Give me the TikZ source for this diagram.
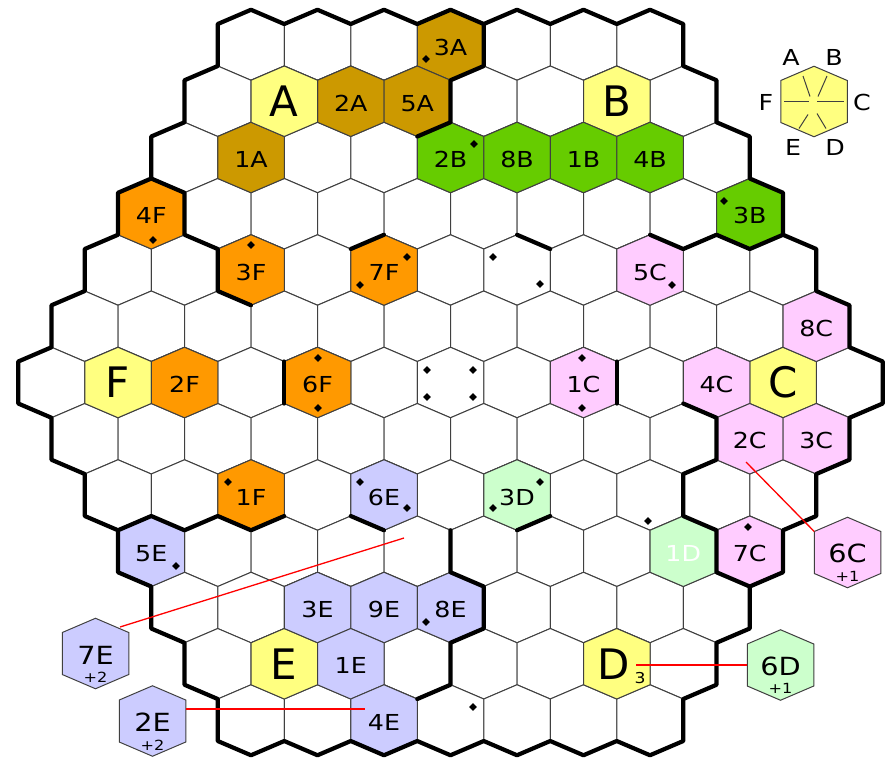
\documentclass[tikz,border=0pt]{standalone}
\usepackage{fontspec}
\setmainfont{DejaVu Sans}
\newfontfamily\lblfont{DejaVu Sans}[FakeStretch=1.15]
\usetikzlibrary{shapes.geometric}

\definecolor{cellA}{HTML}{CC9900}
\definecolor{cellB}{HTML}{66CC00}
\definecolor{cellC}{HTML}{FFCCFF}
\definecolor{cellD}{HTML}{CCFFCC}
\definecolor{cellE}{HTML}{CCCCFF}
\definecolor{cellF}{HTML}{FF9900}
\definecolor{home}{HTML}{FFFF80}

% one hex cell round the current point
\newcommand\hexpath{+(-33.25,-21) -- +(0,-35.25) -- +(33.25,-21) -- +(33.25,21) -- +(0,35.25) -- +(-33.25,21) -- cycle}

\begin{document}
\begin{tikzpicture}[x=1pt, y=-1pt,
    cell/.style={draw=black!75, line width=1pt, fill=white},
    wall/.style={draw=black, line width=4.2pt, line join=round, line cap=round},
    link/.style={draw=red, line width=1.3pt},
    spoke/.style={draw=black!75, line width=1pt},
    lbl/.style={font=\lblfont\fontsize{22}{22}\selectfont, inner sep=0pt, yshift=-2pt},
    bigl/.style={font=\fontsize{42}{42}\selectfont, inner sep=0pt},
    offl/.style={font=\lblfont\fontsize{25}{25}\selectfont, inner sep=0pt},
    bonus/.style={font=\lblfont\fontsize{14}{14}\selectfont, inner sep=0pt},
    keyl/.style={font=\lblfont\fontsize{22}{22}\selectfont, inner sep=0pt},
    pip/.style={diamond, fill=black, inner sep=0pt, minimum size=8pt},
    vN/.style={shift={(0,-35.25)}}, vNE/.style={shift={(33.25,-21)}},
    vSE/.style={shift={(33.25,21)}}, vS/.style={shift={(0,35.25)}},
    vSW/.style={shift={(-33.25,21)}}, vNW/.style={shift={(-33.25,-21)}}
]
\fill[white] (0,0) rectangle (892,761);
\useasboundingbox (0,0) rectangle (892,761);

% Board cells
\foreach \r in {0,...,12} {
  \pgfmathtruncatemacro\k{min(\r,12-\r)}
  \pgfmathtruncatemacro\L{6+\k}
  \foreach \i in {0,...,\L} {
    \coordinate (h\r-\i) at ({251-33.25*\k+66.5*\i},{45+56.25*\r});
    \path[cell] (h\r-\i) \hexpath;
  }
}

% Coloured cells
\foreach \c/\col in {0-3/cellA, 1-2/cellA, 1-3/cellA, 2-1/cellA,
    1-1/home, 1-6/home, 6-1/home, 6-11/home, 11-1/home, 11-6/home,
    2-4/cellB, 2-5/cellB, 2-6/cellB, 2-7/cellB, 3-9/cellB,
    3-0/cellF, 4-2/cellF, 4-4/cellF, 6-2/cellF, 6-4/cellF, 8-2/cellF,
    4-8/cellC, 5-11/cellC, 6-8/cellC, 6-10/cellC, 7-10/cellC, 7-11/cellC, 9-9/cellC,
    8-6/cellD, 9-8/cellD,
    8-4/cellE, 9-0/cellE, 10-2/cellE, 10-3/cellE, 10-4/cellE, 11-2/cellE, 12-2/cellE}
  \path[cell, fill=\col] (h\c) \hexpath;

% Pieces off the board
\coordinate (o7E) at (95.5,653.5);
\coordinate (o2E) at (152.5,721);
\coordinate (o6D) at (780.5,665);
\coordinate (o6C) at (847.5,552.5);
\path[cell, fill=cellE] (o7E) \hexpath;
\path[cell, fill=cellE] (o2E) \hexpath;
\path[cell, fill=cellD] (o6D) \hexpath;
\path[cell, fill=cellC] (o6C) \hexpath;

% Outer rim
\draw[wall] ([vNW]h0-0)
  \foreach \i in {0,...,6} {-- ([vN]h0-\i) -- ([vNE]h0-\i)}
  \foreach \r/\L in {0/6,1/7,2/8,3/9,4/10,5/11,6/12} {-- ([vNE]h\r-\L) -- ([vSE]h\r-\L)}
  \foreach \r/\L in {6/12,7/11,8/10,9/9,10/8,11/7,12/6} {-- ([vSE]h\r-\L) -- ([vS]h\r-\L)}
  \foreach \i in {6,...,0} {-- ([vS]h12-\i) -- ([vSW]h12-\i)}
  \foreach \r in {12,...,6} {-- ([vSW]h\r-0) -- ([vNW]h\r-0)}
  \foreach \r in {5,...,0} {-- ([vSW]h\r-0) -- ([vNW]h\r-0)} -- cycle;

% Walls inside the board
\draw[wall] ([vNE]h0-3) -- ([vSE]h0-3) -- ([vS]h0-3) -- ([vSE]h1-3) -- ([vS]h1-3);
\draw[wall] ([vN]h3-0) -- ([vNE]h3-0) -- ([vSE]h3-0) -- ([vNE]h4-1) -- ([vSE]h4-1) -- ([vS]h4-2);
\draw[wall] ([vNW]h4-4) -- ([vN]h4-4);
\draw[wall] ([vN]h4-6) -- ([vNE]h4-6);
\draw[wall] ([vN]h4-8) -- ([vNE]h4-8) -- ([vN]h4-9) -- ([vNE]h4-9) -- ([vN]h4-10);
\draw[wall] ([vNW]h6-4) -- ([vSW]h6-4);
\draw[wall] ([vNE]h6-8) -- ([vSE]h6-8);
\draw[wall] ([vSW]h6-10) -- ([vS]h6-10) -- ([vSW]h7-10) -- ([vNW]h8-9) -- ([vSW]h8-9) -- ([vS]h8-9) -- ([vSW]h9-9) -- ([vS]h9-9);
\draw[wall] ([vNW]h9-0) -- ([vN]h9-0) -- ([vNE]h9-0) -- ([vN]h9-1) -- ([vS]h8-2) -- ([vSE]h8-2);
\draw[wall] ([vSW]h8-4) -- ([vS]h8-4);
\draw[wall] ([vS]h8-6) -- ([vSE]h8-6);
\draw[wall] ([vS]h8-5) -- ([vN]h10-4) -- ([vNE]h10-4) -- ([vSE]h10-4) -- ([vS]h10-4) -- ([vN]h12-3) -- ([vNW]h12-3);

% Labels
\foreach \c/\t in {0-3/3A, 1-2/2A, 1-3/5A, 2-1/1A,
    2-4/2B, 2-5/8B, 2-6/1B, 2-7/4B, 3-9/3B,
    3-0/4F, 4-2/3F, 4-4/7F, 6-2/2F, 6-4/6F, 8-2/1F,
    4-8/5C, 5-11/8C, 6-8/1C, 6-10/4C, 7-10/2C, 7-11/3C, 9-9/7C,
    8-6/3D, 8-4/6E, 9-0/5E, 10-2/3E, 10-3/9E, 10-4/8E, 11-2/1E, 12-2/4E}
  \node[lbl] (l\t) at (h\c) {\t};
\node[lbl, text=white] (l1D) at (h9-8) {1D};
\foreach \c/\t in {1-1/A, 1-6/B, 6-11/C, 11-1/E, 6-1/F}
  \node[bigl] (l\t) at (h\c) {\t};
\node[bigl, xshift=-3pt] (lD) at (h11-6) {D};
\node[font=\lblfont\fontsize{15}{15}\selectfont, inner sep=0pt] (sub3) at (640,678) {3};

\node[offl] (l7E) at (95.5,655) {7E};
\node[bonus] (b7E) at (95.5,677) {+2};
\node[offl] (l2E) at (152.5,722) {2E};
\node[bonus] (b2E) at (152.5,745) {+2};
\node[offl] (l6D) at (780.5,666) {6D};
\node[bonus] (b6D) at (780.5,688) {+1};
\node[offl] (l6C) at (847.5,553) {6C};
\node[bonus] (b6C) at (847.5,576) {+1};

% Markers
\foreach \p [count=\n] in {(426,59), (474,144), (724,201), (153,240), (251,245),
    (407,257), (360,285), (493,257), (540,284), (672,285),
    (318,358), (318,408), (427,370), (473,370), (427,397), (473,397),
    (582,358), (582,408), (228,482), (360,482), (407,508), (540,482), (493,508),
    (176,566), (648,521), (748,527), (426,622), (473,707)}
  \node[pip] (d\n) at \p {};

% Key
\coordinate (key) at (814,101.5);
\path[cell, fill=home] (key) \hexpath;
\draw[spoke] ([shift={(-30,0)}]key) -- ([shift={(-5,0)}]key);
\draw[spoke] ([shift={(3,0)}]key) -- ([shift={(30,0)}]key);
\draw[spoke] ([shift={(-4,-5)}]key) -- ([shift={(-11,-25.5)}]key);
\draw[spoke] ([shift={(4,-5)}]key) -- ([shift={(13,-25.5)}]key);
\draw[spoke] ([shift={(-6,13)}]key) -- ([shift={(-15,27)}]key);
\draw[spoke] ([shift={(3,12)}]key) -- ([shift={(12,27)}]key);
\foreach \x/\y/\t in {791/57/A, 834/57/B, 862/102/C, 835/147/D, 793/147/E, 766/102/F}
  \node[keyl] (k\t) at (\x,\y) {\t};

% Red links
\coordinate (p2C) at (746,462);
\coordinate (pD) at (636,665);
\coordinate (p7E) at (120,627);
\coordinate (p6E) at (404,538);
\coordinate (p4E) at (365,709);
\draw[link] (p2C) -- ([vNW]o6C);
\draw[link] (pD) -- ([shift={(-33.25,0)}]o6D);
\draw[link] (p7E) -- (p6E);
\draw[link] ([shift={(33.25,-12)}]o2E) -- (p4E);

\end{tikzpicture}
\end{document}
